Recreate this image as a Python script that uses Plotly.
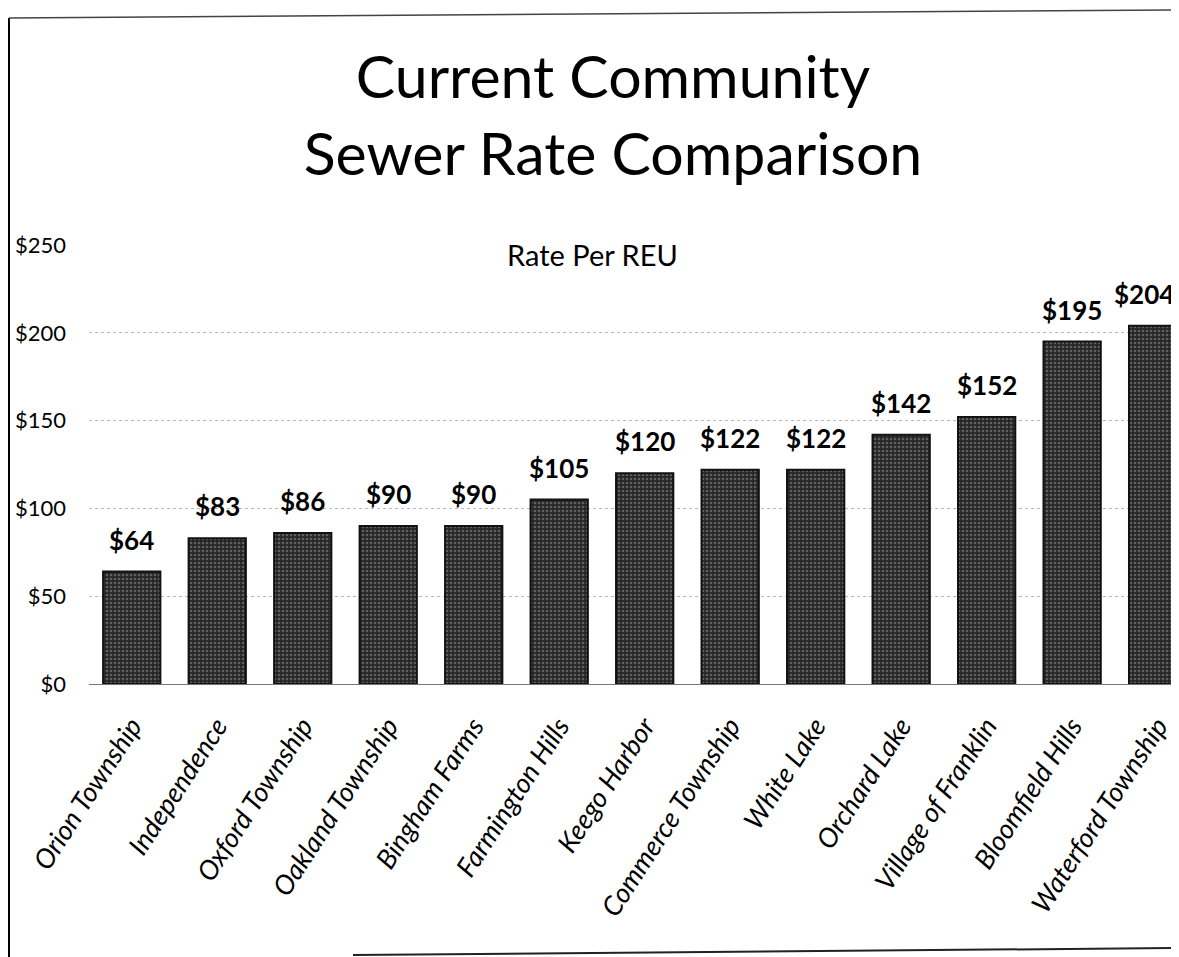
import plotly.graph_objects as go

communities = ["Orion Township", "Independence", "Oxford Township", "Oakland Township",
               "Bingham Farms", "Farmington Hills", "Keego Harbor", "Commerce Township",
               "White Lake", "Orchard Lake", "Village of Franklin", "Bloomfield Hills",
               "Waterford Township"]
rates = [64, 83, 86, 90, 90, 105, 120, 122, 122, 142, 152, 195, 204]
rate_labels = ["$64", "$83", "$86", "$90", "$90", "$105", "$120", "$122", "$122",
               "$142", "$152", "$195", "$204"]
y_ticks = [0, 50, 100, 150, 200, 250]
y_tick_text = ["$0", "$50", "$100", "$150", "$200", "$250"]

# page body has an 8px margin; figure sized so it ends at the window edge
OFF = 8
W, H = 1171, 949
L, R, T, B = 81, 0, 237, 273
PW = W - L - R
PH = H - T - B


def sx(p):
    return (p - OFF - L) / PW


def sy(p):
    return (H - B - (p - OFF)) / PH


fig = go.Figure()
fig.add_trace(go.Bar(
    x=communities, y=rates,
    marker=dict(color="#333333", line=dict(color="#111111", width=2),
                pattern=dict(shape=".", fgcolor="#9a9a9a", bgcolor="#262626",
                             size=4, solidity=0.35)),
    width=0.67, hoverinfo="skip",
))

for i, (c, v, t) in enumerate(zip(communities, rates, rate_labels)):
    fig.add_annotation(x=c, y=v, text="<b>%s</b>" % t, showarrow=False,
                       yanchor="bottom", yshift=14,
                       xshift=-14 if i == len(communities) - 1 else 0,
                       font=dict(family="Lato", size=26, color="black"))

fig.add_annotation(text="Rate Per REU", xref="paper", yref="paper",
                   x=sx(592), y=sy(254), showarrow=False,
                   xanchor="center", yanchor="middle",
                   font=dict(family="Lato", size=29, color="black"))

fig.add_shape(type="line", xref="paper", yref="paper", x0=sx(9), x1=sx(9),
              y0=sy(18), y1=sy(957), line=dict(color="black", width=2))
fig.add_shape(type="line", xref="paper", yref="paper", x0=sx(9), x1=sx(1179),
              y0=sy(18), y1=sy(10), line=dict(color="#444", width=1.5))
fig.add_shape(type="line", xref="paper", yref="paper", x0=sx(353), x1=sx(1179),
              y0=sy(955), y1=sy(948), line=dict(color="#222", width=2))

fig.update_layout(
    width=W, height=H,
    margin=dict(l=L, r=R, t=T, b=B, autoexpand=False),
    paper_bgcolor="white", plot_bgcolor="white",
    showlegend=False,
    title=dict(text="Current Community<br>Sewer Rate Comparison",
               x=(613 - OFF) / W, xanchor="center",
               y=1 - (98 - OFF) / H, yanchor="middle",
               xref="container", yref="container",
               font=dict(family="Lato", size=59, color="black")),
    xaxis=dict(range=[-0.5, 12.25], tickangle=-57, showgrid=False,
               tickfont=dict(family="Lato", size=27, color="black", style="italic"),
               ticks="", ticklabelstandoff=20, showline=False, zeroline=False),
    yaxis=dict(range=[0, 250], tickvals=y_ticks, ticktext=y_tick_text,
               showgrid=True, gridcolor="#b8b8b8", griddash="dot", gridwidth=1,
               zeroline=True, zerolinecolor="#777", zerolinewidth=1,
               tickfont=dict(family="Lato", size=22, color="black"),
               ticks="", ticklabelstandoff=22, showline=False),
    bargap=0.33,
)

fig.write_html("out.html")
